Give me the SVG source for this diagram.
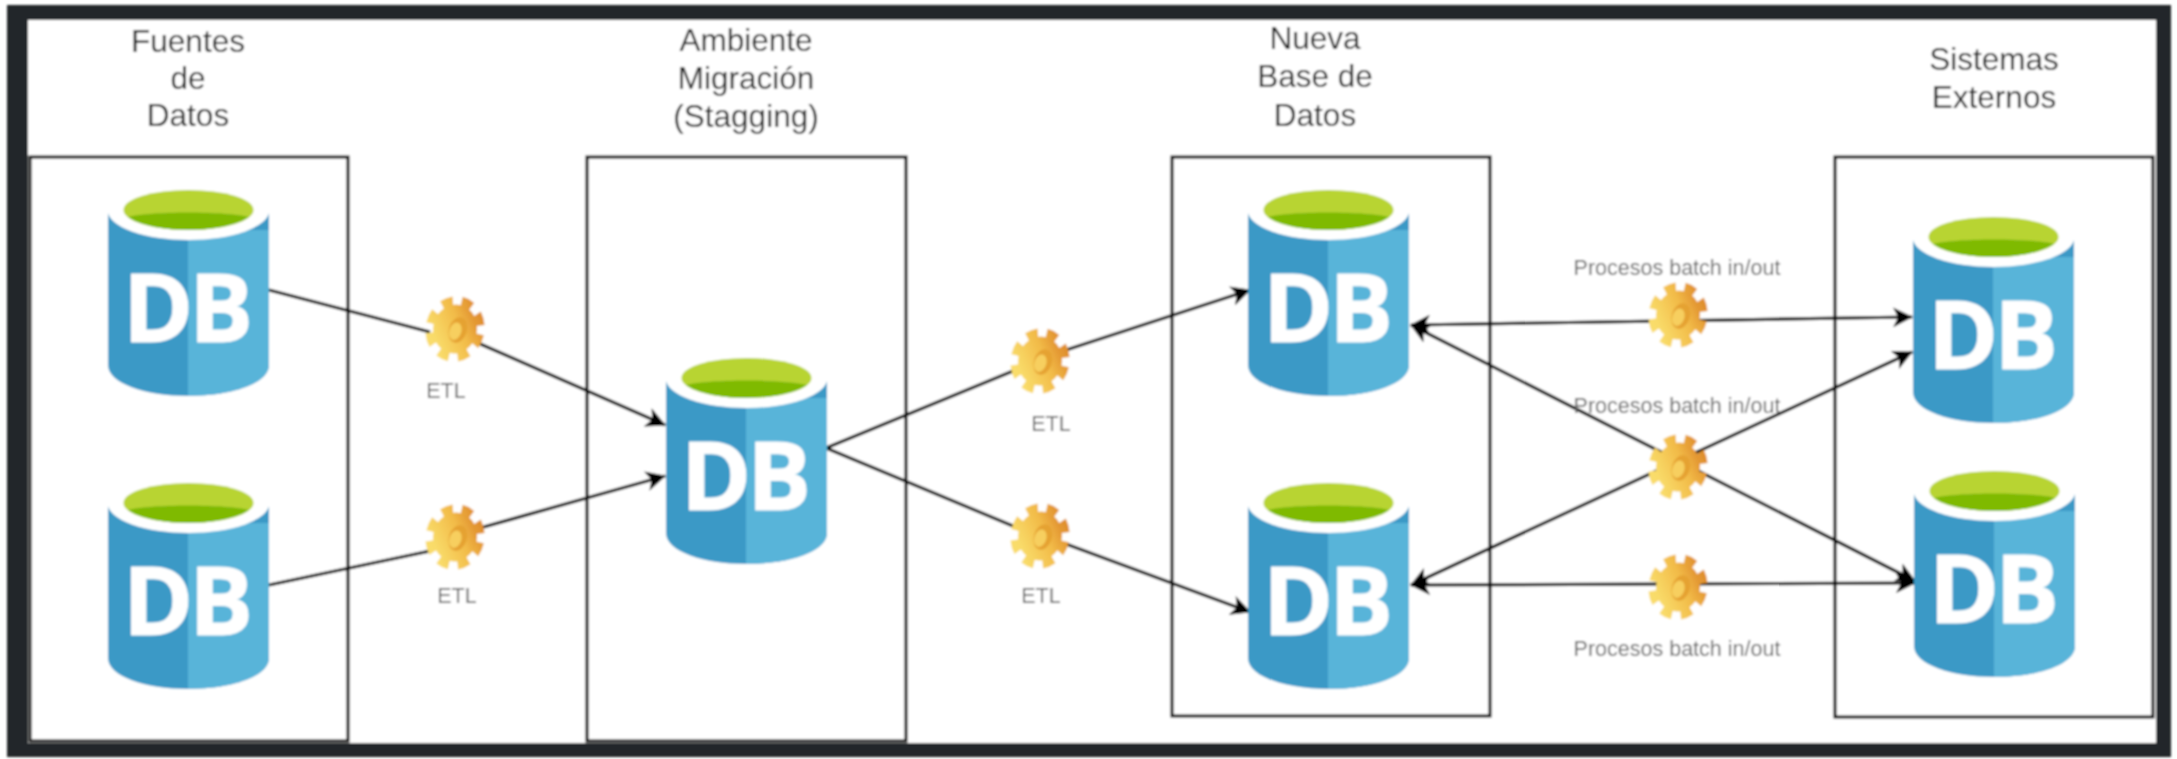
<svg xmlns="http://www.w3.org/2000/svg" xmlns:xlink="http://www.w3.org/1999/xlink" width="2177" height="759" viewBox="0 0 2177 759">
<style>
.box{fill:none;stroke:#000;stroke-width:3}
.title{font-family:"Liberation Sans",Arial,sans-serif;font-size:31.500px;fill:#222;text-anchor:middle}
.small{font-family:"Liberation Sans",Arial,sans-serif;font-size:21.500px;fill:#666;text-anchor:middle}
.db{font-family:"Open Sans",sans-serif;font-weight:700;font-size:95px;letter-spacing:-4px;fill:#fff;stroke:#fff;stroke-width:1;text-anchor:middle}
.con{fill:none;stroke:#000;stroke-width:3.200}
</style>
<defs>
<filter id="soft" x="-2%" y="-2%" width="104%" height="104%"><feGaussianBlur stdDeviation="0.8"/></filter>
<linearGradient id="gearFill" x1="0.15" y1="0.85" x2="0.95" y2="0.2"><stop offset="0" stop-color="#f9dc6a"/><stop offset="0.6" stop-color="#f2bb48"/><stop offset="1" stop-color="#e0902e"/></linearGradient>
<marker id="arrow" viewBox="0 0 20 20" refX="19" refY="10" markerUnits="userSpaceOnUse" markerWidth="20" markerHeight="20" orient="auto-start-reverse"><path d="M0,0 L20,10 L0,20 L5,10 Z" fill="#000"/></marker>
<g id="dbIcon">
<path d="M0,20 H161 V175 C161,193 125,206 80.500,206 C36,206 0,193 0,175 Z" fill="#3b99c6"/>
<path d="M80,40 H161 V175 C161,193 125,206 80,206 Z" fill="#59b4d9"/>
<ellipse cx="80.500" cy="20" rx="81" ry="30" fill="#fff"/>
<ellipse cx="80.500" cy="20" rx="65" ry="20" fill="#b8d432"/>
<path d="M20,27 C40,21 120,21 141,27 C125,37 100,40 80,40 C60,40 35,37 20,27 Z" fill="#7fba00"/>
<text class="db" x="78" y="152">DB</text>
</g>
<g id="gearIcon">
<g transform="rotate(12) scale(1,1.12)">
<circle r="24" fill="none" stroke="url(#gearFill)" stroke-width="11" stroke-dasharray="10.500 8.350"/>
<circle r="22" fill="url(#gearFill)"/>
</g>
<ellipse cx="3" cy="0" rx="9" ry="13" transform="rotate(18)" fill="#e5a233"/>
<ellipse cx="1" cy="2" rx="6" ry="9" transform="rotate(18)" fill="#f7cf5e"/>
</g>
</defs>
<rect width="2177" height="759" fill="#fff"/>
<g filter="url(#soft)">
<rect x="7" y="5" width="2164" height="752" fill="#22282c"/>
<rect x="28" y="20" width="2128" height="723" fill="#fff"/>

<g id="fuentes"><rect class="box" x="30" y="157" width="318" height="584"/>
<text class="title" x="188" y="52">Fuentes</text><text class="title" x="188" y="89">de</text><text class="title" x="188" y="126">Datos</text></g>
<g id="ambiente"><rect class="box" x="587" y="157" width="319" height="584"/>
<text class="title" x="746" y="51">Ambiente</text><text class="title" x="746" y="89">Migración</text><text class="title" x="746" y="127">(Stagging)</text></g>
<g id="nueva"><rect class="box" x="1172" y="157" width="318" height="559"/>
<text class="title" x="1315" y="49">Nueva</text><text class="title" x="1315" y="87">Base de</text><text class="title" x="1315" y="126">Datos</text></g>
<g id="sistemas"><rect class="box" x="1835" y="157" width="318" height="560"/>
<text class="title" x="1994" y="70">Sistemas</text><text class="title" x="1994" y="108">Externos</text></g>

<g id="connectors">
<path class="con" d="M269,290 L430,332"/><path class="con" d="M478,343 L665,425" marker-end="url(#arrow)"/>
<path class="con" d="M269,585 L430,551"/><path class="con" d="M480,528 L665,476" marker-end="url(#arrow)"/>
<path class="con" d="M826,448 L1013,371"/><path class="con" d="M1066,350 L1250,290" marker-end="url(#arrow)"/>
<path class="con" d="M826,448 L1013,526"/><path class="con" d="M1066,544 L1250,612" marker-end="url(#arrow)"/>
<path class="con" d="M1411,325 L1912,317" marker-start="url(#arrow)" marker-end="url(#arrow)"/>
<path class="con" d="M1411,325 L1915,581" marker-start="url(#arrow)" marker-end="url(#arrow)"/>
<path class="con" d="M1411,585 L1912,352" marker-start="url(#arrow)" marker-end="url(#arrow)"/>
<path class="con" d="M1411,585 L1915,583" marker-start="url(#arrow)" marker-end="url(#arrow)"/>
</g>

<g id="db1"><use href="#dbIcon" x="108" y="190"/></g>
<g id="db2"><use href="#dbIcon" x="108" y="483"/></g>
<g id="db3"><use href="#dbIcon" x="666" y="358"/></g>
<g id="db4"><use href="#dbIcon" x="1248" y="190"/></g>
<g id="db5"><use href="#dbIcon" x="1248" y="483"/></g>
<g id="db6"><use href="#dbIcon" x="1913" y="217"/></g>
<g id="db7"><use href="#dbIcon" x="1914" y="471"/></g>

<g id="etl1"><use href="#gearIcon" x="455" y="329"/><text class="small" x="446" y="398">ETL</text></g>
<g id="etl2"><use href="#gearIcon" x="455" y="537"/><text class="small" x="457" y="603">ETL</text></g>
<g id="etl3"><use href="#gearIcon" x="1040" y="361"/><text class="small" x="1051" y="431">ETL</text></g>
<g id="etl4"><use href="#gearIcon" x="1040" y="536"/><text class="small" x="1041" y="603">ETL</text></g>
<g id="batch1"><use href="#gearIcon" x="1678" y="315"/><text class="small" x="1677" y="275">Procesos batch in/out</text></g>
<g id="batch2"><use href="#gearIcon" x="1678" y="467"/><text class="small" x="1677" y="413">Procesos batch in/out</text></g>
<g id="batch3"><use href="#gearIcon" x="1678" y="587"/><text class="small" x="1677" y="656">Procesos batch in/out</text></g>
</g>
</svg>
